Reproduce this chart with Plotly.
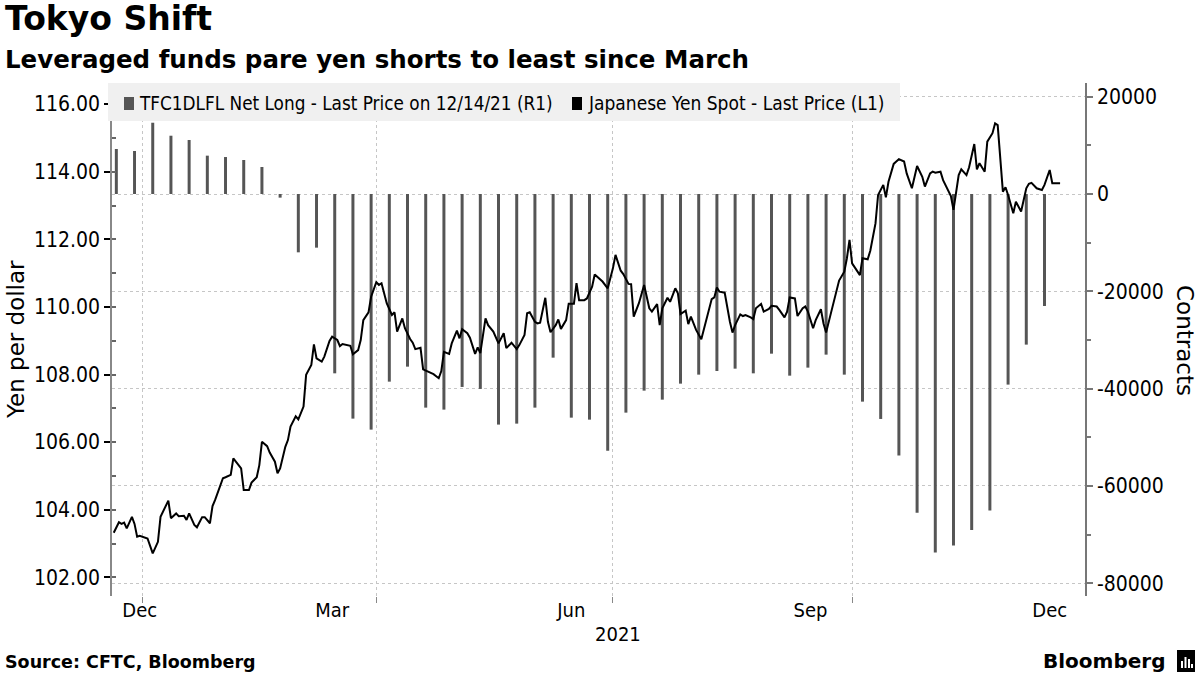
import plotly.graph_objects as go

# ---------------- DATA ----------------
# CFTC leveraged funds net long yen positions (contracts), weekly report dates
cot_dates = [
    "2020-12-22", "2020-12-29", "2021-01-05", "2021-01-12", "2021-01-19", "2021-01-26",
    "2021-02-02", "2021-02-09", "2021-02-16", "2021-02-23", "2021-03-02", "2021-03-09",
    "2021-03-16", "2021-03-23", "2021-03-30", "2021-04-06", "2021-04-13", "2021-04-20",
    "2021-04-27", "2021-05-04", "2021-05-11", "2021-05-18", "2021-05-25", "2021-06-01",
    "2021-06-08", "2021-06-15", "2021-06-22", "2021-06-29", "2021-07-06", "2021-07-13",
    "2021-07-20", "2021-07-27", "2021-08-03", "2021-08-10", "2021-08-17", "2021-08-24",
    "2021-08-31", "2021-09-07", "2021-09-14", "2021-09-21", "2021-09-28", "2021-10-05",
    "2021-10-12", "2021-10-19", "2021-10-26", "2021-11-02", "2021-11-09", "2021-11-16",
    "2021-11-23", "2021-11-30", "2021-12-07", "2021-12-14",
]
cot_net_long = [
    9250, 8840, 14650, 11980, 11100, 7880, 7600, 6990, 5550, -750,
    -11990, -11030, -36860, -46170, -48430, -38570, -35490, -43910, -44320, -39660,
    -40070, -47400, -47200, -43910, -33640, -45970, -46380, -52750, -44940, -40420,
    -42270, -38980, -37130, -36380, -35900, -36860, -32820, -37340, -35690, -33020,
    -37130, -42680, -46240, -53770, -65500, -73710, -72270, -69050, -65080, -39180,
    -30960, -23020,
]

# Japanese yen spot (USD/JPY)
fx_dates = [
    "2020-12-21", "2020-12-23", "2020-12-24", "2020-12-25", "2020-12-26", "2020-12-28", "2020-12-29", "2020-12-30", "2020-12-31",
    "2021-01-03", "2021-01-05", "2021-01-07", "2021-01-08", "2021-01-09", "2021-01-11", "2021-01-12", "2021-01-14", "2021-01-15", "2021-01-17",
    "2021-01-18", "2021-01-19", "2021-01-21", "2021-01-22", "2021-01-24", "2021-01-25", "2021-01-27", "2021-01-28", "2021-01-29", "2021-01-31",
    "2021-02-01", "2021-02-02", "2021-02-04", "2021-02-05", "2021-02-06", "2021-02-08", "2021-02-09", "2021-02-11", "2021-02-12", "2021-02-14",
    "2021-02-15", "2021-02-16", "2021-02-18", "2021-02-19", "2021-02-21", "2021-02-22", "2021-02-23", "2021-02-25", "2021-02-26", "2021-02-27",
    "2021-03-01", "2021-03-02", "2021-03-04", "2021-03-05", "2021-03-07", "2021-03-08", "2021-03-09", "2021-03-11", "2021-03-12", "2021-03-14",
    "2021-03-15", "2021-03-17", "2021-03-18", "2021-03-19", "2021-03-22", "2021-03-23", "2021-03-25", "2021-03-26", "2021-03-27", "2021-03-29",
    "2021-03-30",
    "2021-04-01", "2021-04-02", "2021-04-03", "2021-04-05", "2021-04-07", "2021-04-08", "2021-04-09", "2021-04-11", "2021-04-12", "2021-04-14",
    "2021-04-15", "2021-04-16", "2021-04-18", "2021-04-19", "2021-04-21", "2021-04-23", "2021-04-25", "2021-04-26", "2021-04-27", "2021-04-29",
    "2021-04-30",
    "2021-05-02", "2021-05-03", "2021-05-04", "2021-05-06", "2021-05-07", "2021-05-09", "2021-05-10", "2021-05-11", "2021-05-13", "2021-05-14",
    "2021-05-16", "2021-05-18", "2021-05-20", "2021-05-21", "2021-05-23", "2021-05-25", "2021-05-26", "2021-05-28", "2021-05-29", "2021-05-30",
    "2021-06-01", "2021-06-02", "2021-06-03", "2021-06-05", "2021-06-06", "2021-06-07", "2021-06-09", "2021-06-10", "2021-06-11", "2021-06-13",
    "2021-06-14", "2021-06-16", "2021-06-17", "2021-06-18", "2021-06-20", "2021-06-21", "2021-06-23", "2021-06-24", "2021-06-25", "2021-06-27",
    "2021-06-29",
    "2021-07-01", "2021-07-02", "2021-07-04", "2021-07-05", "2021-07-07", "2021-07-08", "2021-07-09", "2021-07-11", "2021-07-12", "2021-07-13",
    "2021-07-15", "2021-07-16", "2021-07-18", "2021-07-19", "2021-07-20", "2021-07-22", "2021-07-23", "2021-07-25", "2021-07-26", "2021-07-27",
    "2021-07-29", "2021-07-30", "2021-07-31",
    "2021-08-02", "2021-08-04", "2021-08-05", "2021-08-06", "2021-08-08", "2021-08-09", "2021-08-10", "2021-08-11", "2021-08-13", "2021-08-15",
    "2021-08-16", "2021-08-17", "2021-08-19", "2021-08-20", "2021-08-21", "2021-08-23", "2021-08-24", "2021-08-25", "2021-08-27", "2021-08-28",
    "2021-08-30", "2021-08-31",
    "2021-09-02", "2021-09-03", "2021-09-05", "2021-09-06", "2021-09-07", "2021-09-09", "2021-09-10", "2021-09-12", "2021-09-13", "2021-09-14",
    "2021-09-16", "2021-09-17", "2021-09-19", "2021-09-20", "2021-09-21", "2021-09-23", "2021-09-25", "2021-09-26", "2021-09-28", "2021-09-29",
    "2021-09-30",
    "2021-10-01", "2021-10-04", "2021-10-05", "2021-10-07", "2021-10-08", "2021-10-10", "2021-10-11", "2021-10-13", "2021-10-14", "2021-10-15",
    "2021-10-17", "2021-10-18", "2021-10-19", "2021-10-21", "2021-10-22", "2021-10-24", "2021-10-25", "2021-10-26", "2021-10-28", "2021-10-29",
    "2021-10-31",
    "2021-11-01", "2021-11-02", "2021-11-04", "2021-11-05", "2021-11-07", "2021-11-08", "2021-11-09", "2021-11-11", "2021-11-12", "2021-11-14",
    "2021-11-15", "2021-11-17", "2021-11-18", "2021-11-19", "2021-11-21", "2021-11-22", "2021-11-24", "2021-11-25", "2021-11-26", "2021-11-28",
    "2021-11-29", "2021-11-30",
    "2021-12-02", "2021-12-03", "2021-12-05", "2021-12-07", "2021-12-08", "2021-12-09", "2021-12-11", "2021-12-13", "2021-12-14", "2021-12-16",
    "2021-12-17", "2021-12-20",
]
fx_usdjpy = [
    103.32, 103.63, 103.58, 103.62, 103.45, 103.79, 103.58, 103.20, 103.23,
    103.15, 102.71, 103.05, 103.79, 103.94, 104.27, 103.75, 103.89, 103.81, 103.82,
    103.70, 103.89, 103.55, 103.48, 103.78, 103.78, 103.60, 104.11, 104.29, 104.68,
    104.93, 104.96, 105.03, 105.52, 105.42, 105.22, 104.58, 104.58, 104.80, 104.96,
    105.32, 106.01, 105.88, 105.69, 105.42, 105.08, 105.22, 105.86, 106.06, 106.46,
    106.76, 106.67, 107.05, 107.99, 108.28, 108.89, 108.48, 108.38, 108.53, 108.99,
    109.12, 109.02, 108.84, 108.90, 108.85, 108.60, 108.72, 109.02, 109.61, 109.84,
    110.30,
    110.73, 110.65, 110.70, 110.11, 109.76, 109.84, 109.27, 109.66, 109.37, 109.05,
    108.94, 108.75, 108.79, 108.15, 108.08, 108.01, 107.89, 108.10, 108.67, 108.61,
    108.92,
    109.30, 109.07, 109.34, 109.22, 109.09, 108.61, 108.80, 108.63, 109.66, 109.46,
    109.27, 108.92, 109.22, 108.78, 108.94, 108.75, 108.87, 109.17, 109.81, 109.84,
    109.56, 109.51, 109.53, 110.27, 109.56, 109.25, 109.46, 109.63, 109.35, 109.61,
    110.09, 110.09, 110.70, 110.20, 110.20, 110.25, 110.60, 110.96, 110.88, 110.75,
    110.55,
    111.14, 111.54, 111.07, 110.97, 110.68, 110.67, 109.71, 110.11, 110.35, 110.65,
    109.96, 109.86, 110.08, 109.46, 109.96, 110.27, 110.15, 110.55, 110.40, 109.79,
    109.89, 109.49, 109.71,
    109.32, 109.04, 109.34, 109.61, 110.23, 110.28, 110.57, 110.45, 110.42, 109.56,
    109.24, 109.46, 109.78, 109.73, 109.76, 109.69, 109.64, 109.96, 110.09, 109.86,
    109.94, 110.03,
    110.01, 109.91, 109.69, 109.86, 110.28, 110.25, 109.73, 109.96, 110.01, 109.86,
    109.37, 109.61, 109.93, 109.51, 109.24, 109.86, 110.45, 110.78, 111.04, 111.44,
    111.98,
    111.29, 110.94, 111.44, 111.41, 111.66, 112.47, 113.31, 113.61, 113.24, 113.70,
    114.23, 114.30, 114.37, 114.30, 113.95, 113.51, 113.81, 114.17, 113.85, 113.56,
    113.95,
    114.00, 113.97, 114.00, 113.75, 113.46, 113.28, 112.87, 113.90, 114.07, 113.90,
    114.13, 114.82, 114.07, 114.25, 114.00, 114.89, 115.14, 115.43, 115.38, 113.41,
    113.54, 113.31,
    112.77, 113.11, 112.82, 113.51, 113.64, 113.67, 113.51, 113.46, 113.61, 114.05,
    113.66, 113.66,
]

yen_ticks = [102, 104, 106, 108, 110, 112, 114, 116]
contract_ticks = [-80000, -60000, -40000, -20000, 0, 20000]
contract_tick_text = ["-80000", "-60000", "-40000", "-20000", "0", "20000"]
month_label_dates = ["2020-12-31", "2021-03-15", "2021-06-15", "2021-09-15", "2021-12-16"]
month_labels = ["Dec", "Mar", "Jun", "Sep", "Dec"]
quarter_dates = ["2021-01-01", "2021-04-01", "2021-07-01", "2021-10-01"]
year_label = "2021"
year_label_date = "2021-07-03"

legend_bar = "TFC1DLFL Net Long - Last Price on 12/14/21 (R1)"
legend_line = "Japanese Yen Spot - Last Price (L1)"

# ---------------- LAYOUT HELPERS ----------------
W, H = 1200, 675
PL, PR, PT, PB = 112, 1085, 83, 596


def xp(x):
    return (x - PL) / (PR - PL)


def yp(y):
    return (PB - y) / (PB - PT)


COND = "DejaVu Sans Condensed, DejaVu Sans, sans-serif"
REG = "DejaVu Sans, sans-serif"
BAR_COLOR = "#555555"
GRID = "#c6c6c6"

fig = go.Figure()
fig.add_trace(go.Bar(
    x=cot_dates, y=cot_net_long, yaxis="y", name=legend_bar,
    marker=dict(color=BAR_COLOR, line=dict(width=0)),
    width=1.15 * 86400000, hoverinfo="x+y",
))
fig.add_trace(go.Scatter(
    x=fx_dates, y=fx_usdjpy, yaxis="y2", mode="lines", name=legend_line,
    line=dict(color="#000000", width=2),
))

fig.update_layout(
    width=W, height=H,
    margin=dict(l=PL, r=W - PR, t=PT, b=H - PB, pad=0),
    paper_bgcolor="white", plot_bgcolor="white",
    showlegend=False,
    xaxis=dict(
        type="date", range=["2020-12-20 08:00:00", "2021-12-29 14:00:00"],
        tickmode="array", tickvals=month_label_dates, ticktext=month_labels,
        ticks="", showgrid=False, showline=False, zeroline=False,
        tickfont=dict(family=COND, size=20, color="#000"),
        minor=dict(tickmode="array", tickvals=quarter_dates, ticks="outside",
                   ticklen=6, tickcolor="#888", showgrid=True,
                   gridcolor=GRID, griddash="dot", gridwidth=1),
    ),
    yaxis=dict(
        side="right", range=[-82630, 22816],
        tickmode="array", tickvals=contract_ticks, ticktext=contract_tick_text,
        showgrid=True, gridcolor=GRID, griddash="dot", gridwidth=1,
        zeroline=False, showline=True, linecolor="#777", linewidth=1.5,
        ticks="outside", ticklen=6, tickwidth=2, tickcolor="#777",
        minor=dict(tickmode="linear", tick0=0, dtick=10000, ticks="outside",
                   ticklen=4, tickcolor="#777", showgrid=False),
        tickfont=dict(family=COND, size=21, color="#000"),
    ),
    yaxis2=dict(
        overlaying="y", side="left", range=[101.447, 116.624],
        tickmode="array", tickvals=yen_ticks, tickformat=".2f",
        showgrid=False, zeroline=False, showline=True, linecolor="#888", linewidth=1.5,
        ticks="outside", ticklen=6, tickwidth=2, tickcolor="#000",
        minor=dict(tickmode="linear", tick0=101, dtick=1, ticks="inside",
                   ticklen=4, tickcolor="#666", showgrid=False),
        tickfont=dict(family=COND, size=21, color="#000"),
    ),
)

shapes = [
    # legend background
    dict(type="rect", xref="paper", yref="paper", x0=xp(108), x1=xp(900), y0=yp(121), y1=yp(83),
         fillcolor="#f0f0f0", line=dict(width=0), layer="above"),
    dict(type="rect", xref="paper", yref="paper", x0=xp(124), x1=xp(134), y0=yp(110), y1=yp(97),
         fillcolor=BAR_COLOR, line=dict(width=0), layer="above"),
    dict(type="rect", xref="paper", yref="paper", x0=xp(572), x1=xp(582), y0=yp(110), y1=yp(97),
         fillcolor="#000000", line=dict(width=0), layer="above"),
    # Bloomberg logo mark
    dict(type="rect", xref="paper", yref="paper", x0=xp(1177), x1=xp(1195), y0=yp(672), y1=yp(650),
         fillcolor="#000000", line=dict(width=0), layer="above"),
]
for bx0, btop in [(1181, 661), (1184.5, 657), (1188, 659), (1191, 664)]:
    shapes.append(dict(type="rect", xref="paper", yref="paper", x0=xp(bx0), x1=xp(bx0 + 2),
                       y0=yp(668), y1=yp(btop), fillcolor="#ffffff", line=dict(width=0), layer="above"))
fig.update_layout(shapes=shapes)

ann = []
ann.append(dict(text="<b>Tokyo Shift</b>", xref="paper", yref="paper", x=xp(3), y=yp(18.5),
                xanchor="left", yanchor="middle", showarrow=False,
                font=dict(family=REG, size=33, color="#000")))
ann.append(dict(text="<b>Leveraged funds pare yen shorts to least since March</b>", xref="paper", yref="paper",
                x=xp(3), y=yp(59), xanchor="left", yanchor="middle", showarrow=False,
                font=dict(family=REG, size=24.5, color="#000")))
ann.append(dict(text=legend_bar, xref="paper", yref="paper", x=xp(137), y=yp(103),
                xanchor="left", yanchor="middle", showarrow=False,
                font=dict(family=COND, size=18.8, color="#000")))
ann.append(dict(text=legend_line, xref="paper", yref="paper", x=xp(586), y=yp(103),
                xanchor="left", yanchor="middle", showarrow=False,
                font=dict(family=COND, size=19, color="#000")))
ann.append(dict(text="Yen per dollar", xref="paper", yref="paper", x=xp(16), y=yp(340),
                xanchor="center", yanchor="middle", textangle=-90, showarrow=False,
                font=dict(family=REG, size=23, color="#000")))
ann.append(dict(text="Contracts", xref="paper", yref="paper", x=xp(1185), y=yp(340),
                xanchor="center", yanchor="middle", textangle=90, showarrow=False,
                font=dict(family=REG, size=23, color="#000")))
ann.append(dict(text=year_label, xref="x", yref="paper", x=year_label_date, y=yp(634),
                xanchor="center", yanchor="middle", showarrow=False,
                font=dict(family=COND, size=20, color="#000")))
ann.append(dict(text="<b>Source: CFTC, Bloomberg</b>", xref="paper", yref="paper", x=xp(3), y=yp(662),
                xanchor="left", yanchor="middle", showarrow=False,
                font=dict(family=REG, size=17.5, color="#000")))
ann.append(dict(text="<b>Bloomberg</b>", xref="paper", yref="paper", x=xp(1167), y=yp(661),
                xanchor="right", yanchor="middle", showarrow=False,
                font=dict(family=REG, size=20, color="#000")))
fig.update_layout(annotations=ann)

fig.write_html("out.html")
